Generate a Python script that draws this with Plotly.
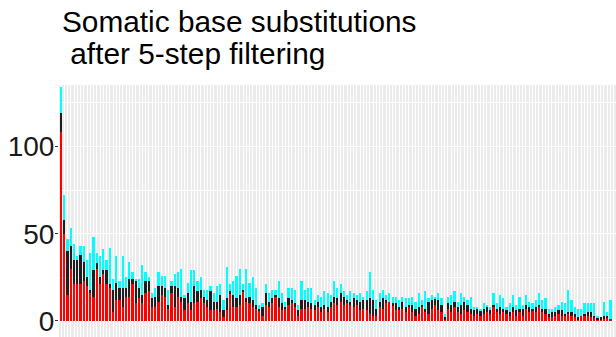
import numpy as np
import plotly.graph_objects as go

# Values (cumulative heights per bar)
red_top = [108, 50, 15, 30, 21, 21, 21, 23, 20, 16, 14, 30, 21, 27, 21, 19, 5, 12, 12, 8, 14, 14, 21, 10, 13, 10, 16, 17, 8, 8, 11, 15, 14, 7, 16, 8, 14, 11, 6, 10, 6, 10,
           11, 13, 10, 8, 6, 6, 7, 5, 2, 6, 16, 8, 8, 9, 17, 11, 10, 8, 7, 6, 3, 9, 8, 10, 14, 8, 6, 7, 9, 10, 8, 3, 7, 7, 8, 7, 6, 8, 5, 7, 5,
           8, 10, 9, 11, 9, 10, 9, 8, 9, 6, 7, 6, 4, 3, 3, 8, 7, 10, 11, 9, 6, 6, 7, 5, 8, 5, 3, 4, 8, 5, 4, 7, 9, 6, 5, 1, 7, 5, 8, 5, 4, 6, 5,
           4, 3, 4, 3, 4, 5, 4, 8, 5, 4, 5, 4, 3, 5, 3, 5, 3, 7, 5, 6, 5, 8, 5, 4, 2, 2, 3, 4,
           3, 3, 4, 3, 2, 1, 3, 3, 3, 2, 2, 1, 1, 1, 2, 1]
black_top = [119, 58, 40, 43, 35, 35, 38, 34, 25, 18, 29, 33, 25, 29, 29, 21, 18, 22, 19, 19, 19, 24, 24, 23, 19, 15, 23, 23, 13, 14, 20, 20, 19, 9, 20, 20, 19, 14, 13, 16, 11, 20,
             17, 18, 14, 12, 17, 11, 11, 15, 6, 13, 17, 15, 13, 15, 18, 13, 14, 12, 9, 7, 8, 16, 11, 13, 15, 13, 10, 8, 13, 12, 10, 6, 12, 12, 11, 10, 9, 11, 8, 9, 8,
             11, 14, 13, 16, 14, 12, 11, 13, 12, 11, 12, 12, 13, 12, 7, 11, 13, 12, 11, 10, 10, 8, 11, 8, 9, 9, 7, 8, 9, 7, 11, 12, 13, 12, 9, 2, 10, 9, 11, 8, 9, 11, 9,
             7, 6, 7, 6, 7, 8, 6, 9, 7, 8, 7, 6, 5, 8, 6, 7, 7, 9, 8, 7, 8, 9, 7, 7, 4, 5, 5, 6,
             6, 4, 5, 5, 4, 2, 3, 4, 5, 5, 3, 2, 2, 3, 3, 1]
total = [134, 72, 47, 53, 44, 37, 43, 43, 35, 39, 48, 39, 37, 41, 35, 42, 24, 37, 23, 37, 25, 34, 28, 24, 24, 32, 28, 25, 16, 19, 28, 26, 26, 18, 23, 27, 28, 30, 15, 22, 29, 29,
         23, 25, 18, 18, 20, 16, 20, 21, 12, 31, 21, 23, 26, 30, 21, 30, 22, 25, 19, 9, 10, 21, 16, 18, 18, 23, 16, 11, 19, 19, 18, 9, 23, 18, 19, 19, 12, 15, 14, 17, 16,
         15, 23, 19, 21, 17, 15, 17, 16, 15, 16, 14, 17, 28, 18, 12, 16, 18, 15, 16, 14, 14, 12, 14, 13, 13, 14, 11, 16, 12, 17, 13, 15, 14, 16, 13, 4, 14, 15, 17, 11, 16, 14, 12,
         14, 8, 8, 7, 10, 9, 8, 16, 10, 15, 13, 8, 10, 15, 9, 14, 9, 15, 11, 10, 12, 16, 12, 13, 7, 7, 8, 9,
         11, 10, 18, 12, 8, 7, 7, 10, 10, 10, 10, 3, 2, 11, 5, 12]

y_ticks = [0, 50, 100]
title_line1 = "Somatic base substitutions"
title_line2 = "\u00a0after 5-step filtering"

red = np.array(red_top)
black = np.array(black_top) - red
cyan = np.array(total) - np.array(black_top)
x = np.arange(len(red))

fig = go.Figure()
for vals, col, name in [(red, "#FF0000", "red"), (black, "#1E1E1E", "black"), (cyan, "#00FFFF", "cyan")]:
    fig.add_trace(go.Bar(x=x, y=vals, marker=dict(color=col, line=dict(width=0)),
                         width=0.68, name=name, showlegend=False))

W, H = 616, 337
ml, mt = 59, 85
fig.update_layout(
    width=W, height=H, barmode="stack",
    margin=dict(l=ml, r=0, t=mt, b=0),
    paper_bgcolor="white", plot_bgcolor="#EBEBEB",
    font=dict(family="Liberation Sans, Arial, sans-serif", color="#1a1a1a"),
    xaxis=dict(range=[-0.615, 170.7], showticklabels=False, ticks="",
               showgrid=True, gridcolor="white", gridwidth=1, dtick=1, tick0=0,
               zeroline=False, showline=False),
    yaxis=dict(range=[-9.2, 135.2], tickvals=y_ticks, ticks="outside", ticklen=3,
               tickcolor="#333333", tickwidth=1, tickfont=dict(size=28, color="#1a1a1a"),
               ticklabelstandoff=-5,
               showgrid=True, gridcolor="white", gridwidth=1.2, zeroline=False, showline=False,
               minor=dict(tickvals=[25, 75, 125], showgrid=True, gridcolor="white", gridwidth=0.6, ticks="")),
)

def py2paper(py):
    return (H - py) / (H - mt)

fig.add_annotation(text=title_line1, xref="paper", yref="paper", x=(60 - ml) / (W - ml), y=py2paper(21),
                   xanchor="left", yanchor="middle", showarrow=False, font=dict(size=29.8, color="black"))
fig.add_annotation(text=title_line2, xref="paper", yref="paper", x=(60 - ml) / (W - ml), y=py2paper(53),
                   xanchor="left", yanchor="middle", showarrow=False, font=dict(size=29.8, color="black"))

fig.write_html("out.html")
